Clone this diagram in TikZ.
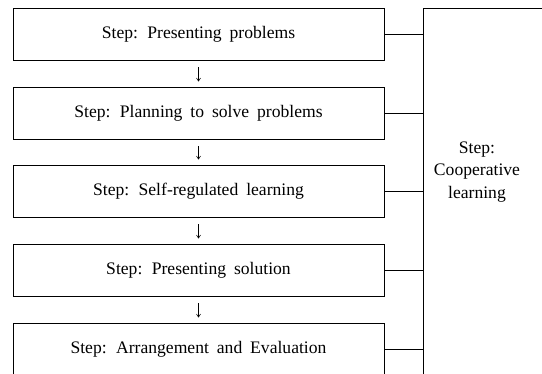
\documentclass[tikz,border=0pt]{standalone}
\usepackage{fontspec}
\setmainfont[WordSpace=1.8]{Liberation Serif}
\usetikzlibrary{arrows.meta}
\begin{document}
\begin{tikzpicture}[x=1pt,y=-1pt,
  stepbox/.style={draw=black,line width=0.8pt,minimum width=371pt,minimum height=52pt,
    inner sep=0pt,font=\fontsize{17.6}{20}\selectfont},
  flow/.style={line width=0.6pt,-{Straight Barb[length=3pt,width=4pt]},shorten <=7pt,shorten >=5pt},
  link/.style={line width=0.8pt}]
\useasboundingbox (0,0) rectangle (542,373);
\clip (0,0) rectangle (542,373);
\fill[white] (0,0) rectangle (542,373);

\node[stepbox] (s1) at (198.5,34)  {Step: Presenting problems};
\node[stepbox] (s2) at (198.5,113) {Step: Planning to solve problems};
\node[stepbox] (s3) at (198.5,191) {Step: Self-regulated learning};
\node[stepbox] (s4) at (198.5,270) {Step: Presenting solution};
\node[stepbox] (s5) at (198.5,349) {Step: Arrangement and Evaluation};

% side box, open to the right and below
\node[draw=black,line width=0.8pt,anchor=north west,minimum width=150pt,minimum height=400pt,inner sep=0pt]
  (coop) at (422.5,8) {};
\node[align=center,font=\fontsize{17.6}{22.5}\selectfont] (cooptext) at (477,172)
  {Step:\\Cooperative\\learning};

\draw[flow] (s1) -- (s2);
\draw[flow] (s2) -- (s3);
\draw[flow] (s3) -- (s4);
\draw[flow] (s4) -- (s5);

\foreach \n in {s1,s2,s3,s4,s5}
  \draw[link] (\n.east) -- (\n.east -| coop.west);
\end{tikzpicture}
\end{document}
